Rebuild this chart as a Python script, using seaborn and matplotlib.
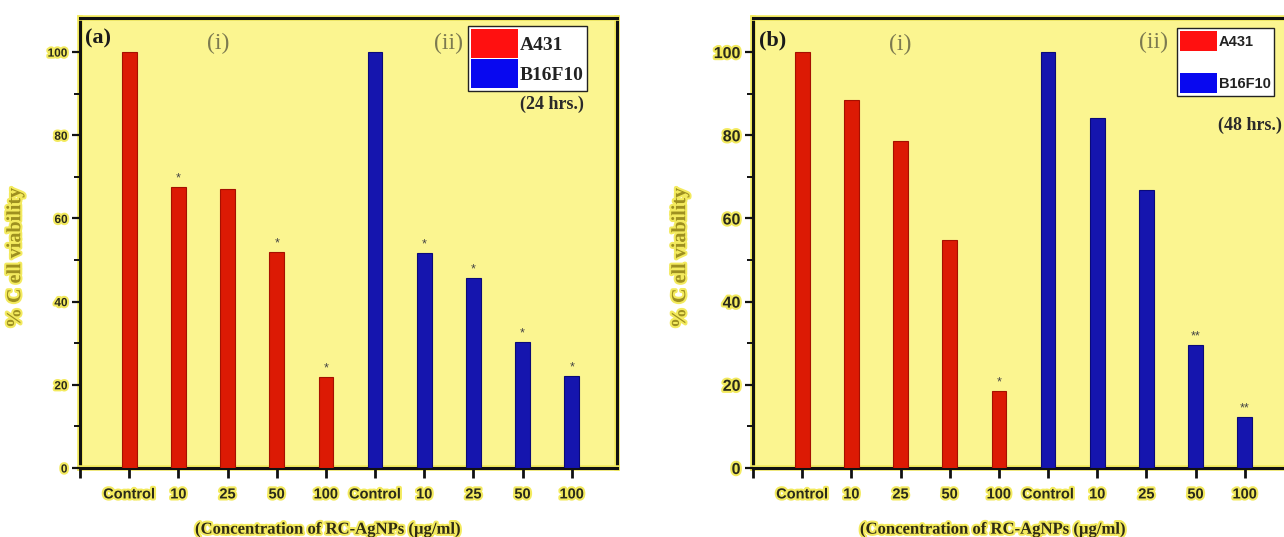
import matplotlib
matplotlib.use("Agg")
import matplotlib.pyplot as plt
import matplotlib.patheffects as pe
from matplotlib.patches import Patch
from matplotlib.ticker import MultipleLocator
import seaborn as sns
import pandas as pd

# ---------------- data ----------------
concentrations = ["Control", "10", "25", "50", "100"]
cell_lines = ["A431", "B16F10"]

a431_24h = [100, 67.5, 67.0, 52.0, 22.0]
b16f10_24h = [100, 51.7, 45.6, 30.2, 22.2]
a431_48h = [100, 88.4, 78.6, 54.8, 18.5]
b16f10_48h = [100, 84.1, 66.8, 29.5, 12.2]

stars_a431_24h = ["", "*", "", "*", "*"]
stars_b16f10_24h = ["", "*", "*", "*", "*"]
stars_a431_48h = ["", "", "", "", "*"]
stars_b16f10_48h = ["", "", "", "**", "**"]

panel_letters = ["(a)", "(b)"]
time_labels = ["(24 hrs.)", "(48 hrs.)"]
group_labels = ["(i)", "(ii)"]
y_label = "% C ell viability"
x_label = "(Concentration of RC-AgNPs (\u00b5g/ml)"

# ---------------- style ----------------
sns.set_theme(style="ticks")
plt.rcParams["font.family"] = ["Liberation Sans", "DejaVu Sans"]

RED = "#dc1a04"
BLUE = "#1515ae"
BG = "#fbf590"
GLOW = "#f3ea5e"
glow = [pe.withStroke(linewidth=3, foreground=GLOW)]
serif = ["Liberation Serif", "DejaVu Serif"]

fig = plt.figure(figsize=(12.84, 5.37), dpi=100, facecolor="white")
W, H = 1284, 537


def make_df(v1, v2):
    rows = []
    for i, (c, v) in enumerate(zip(concentrations, v1)):
        rows.append({"slot": i, "label": c, "value": v, "line": cell_lines[0]})
    for i, (c, v) in enumerate(zip(concentrations, v2)):
        rows.append({"slot": i + 5, "label": c, "value": v, "line": cell_lines[1]})
    return pd.DataFrame(rows)


panels = [
    dict(left=80, data=(a431_24h, b16f10_24h), stars=(stars_a431_24h, stars_b16f10_24h),
         ytick_fs=8.5, letter_xy=(-0.9, 103.3), i_xy=(1.82, 102.0), ii_xy=(6.5, 102.0),
         time_xy=(8.6, 87.5), ylab_x=-0.102, ylab_y=0.467, xlab_x=0.46, kind="a",
         anchor=(0.7225, 0.982)),
    dict(left=753, data=(a431_48h, b16f10_48h), stars=(stars_a431_48h, stars_b16f10_48h),
         ytick_fs=11.5, letter_xy=(-0.88, 102.8), i_xy=(2.0, 101.8), ii_xy=(7.15, 102.4),
         time_xy=(9.1, 82.5), ylab_x=-0.117, ylab_y=0.467, xlab_x=0.445, kind="b",
         anchor=(0.79, 0.978)),
]

for k, p in enumerate(panels):
    ax = fig.add_axes([p["left"] / W, (H - 468) / H, 537 / W, 450 / H])
    ax.set_facecolor(BG)
    df = make_df(*p["data"])
    sns.barplot(data=df, x="slot", y="value", hue="line", order=list(range(10)),
                palette={cell_lines[0]: RED, cell_lines[1]: BLUE},
                dodge=False, width=0.3, legend=False, ax=ax, errorbar=None,
                saturation=1, linewidth=0.8, edgecolor="none")
    for bar in ax.patches:
        fc = bar.get_facecolor()
        bar.set_edgecolor("#a51000" if fc[0] > 0.5 else "#0a0a78")

    ax.set_xlim(-1, 9.92)
    ax.set_ylim(0, 108.2)
    ax.set_xticks(list(range(-1, 10)))
    ax.set_xticklabels([""] + concentrations + concentrations, fontsize=10.5,
                       fontweight="bold", color="#2a2a1a")
    ax.yaxis.set_major_locator(MultipleLocator(20))
    ax.yaxis.set_minor_locator(MultipleLocator(10))
    ax.tick_params(axis="x", direction="out", length=7, width=2, pad=7, color="#111")
    ax.tick_params(axis="y", which="major", direction="out", length=6, width=1.6,
                   pad=3, labelsize=p["ytick_fs"], color="#111")
    ax.tick_params(axis="y", which="minor", direction="out", length=4, width=1.4, color="#111")
    for t in ax.get_yticklabels():
        t.set_fontweight("bold")
        t.set_color("#2a2a1a")
        t.set_path_effects(glow)
    for t in ax.get_xticklabels():
        t.set_path_effects(glow)

    for s in ax.spines.values():
        s.set_visible(True)
        s.set_linewidth(2.2)
        s.set_color("#111")
        s.set_zorder(0.5)
        s.set_path_effects([pe.Stroke(linewidth=4, foreground=GLOW), pe.Normal()])

    ax.set_ylabel(y_label, family=serif, fontweight="bold",
                  fontsize=14.5, color="#9e9020", path_effects=glow)
    ax.yaxis.set_label_coords(p["ylab_x"], p["ylab_y"])
    ax.set_xlabel(x_label, family=serif, fontweight="bold",
                  fontsize=12, color="#2d2a14", path_effects=glow, va="center")
    ax.xaxis.set_label_coords(p["xlab_x"], -0.137)

    # significance stars
    s1, s2 = p["stars"]
    v1, v2 = p["data"]
    for i, (s, v) in enumerate(zip(s1 + s2, v1 + v2)):
        if s:
            ax.text(i, v + 0.6, s, ha="center", va="bottom", fontsize=9, color="#444")

    ax.text(*p["letter_xy"], panel_letters[k], family=serif, fontweight="bold",
            fontsize=16, color="#1a1a1a", ha="left", va="center")
    ax.text(*p["i_xy"], group_labels[0], family=serif, fontsize=17,
            color="#7c7a50", ha="center", va="center")
    ax.text(*p["ii_xy"], group_labels[1], family=serif, fontsize=17,
            color="#7c7a50", ha="center", va="center")
    ax.text(*p["time_xy"], time_labels[k], family=serif, fontweight="bold",
            fontsize=13, color="#2a2a2a", ha="center", va="center")

    handles = [Patch(facecolor="#ff1010", edgecolor="none", label=cell_lines[0]),
               Patch(facecolor="#0808f0", edgecolor="none", label=cell_lines[1])]
    if p["kind"] == "a":
        leg = ax.legend(handles=handles, loc="upper left", bbox_to_anchor=p["anchor"],
                        borderaxespad=0, prop={"family": serif, "weight": "bold", "size": 14},
                        handlelength=2.4, handleheight=1.92, labelspacing=0.05,
                        handletextpad=0.12, borderpad=0.15, frameon=True, fancybox=False,
                        framealpha=1, edgecolor="#222", facecolor="white")
    else:
        leg = ax.legend(handles=handles, loc="upper left", bbox_to_anchor=p["anchor"],
                        borderaxespad=0, prop={"family": "Liberation Sans", "weight": "bold", "size": 10.5},
                        handlelength=2.5, handleheight=1.75, labelspacing=1.5,
                        handletextpad=0.15, borderpad=0.2, frameon=True, fancybox=False,
                        framealpha=1, edgecolor="#222", facecolor="white")
    for t in leg.get_texts():
        t.set_color("#222")
    leg.get_frame().set_linewidth(1.0)

fig.savefig("out.png", dpi=100, facecolor="white")
